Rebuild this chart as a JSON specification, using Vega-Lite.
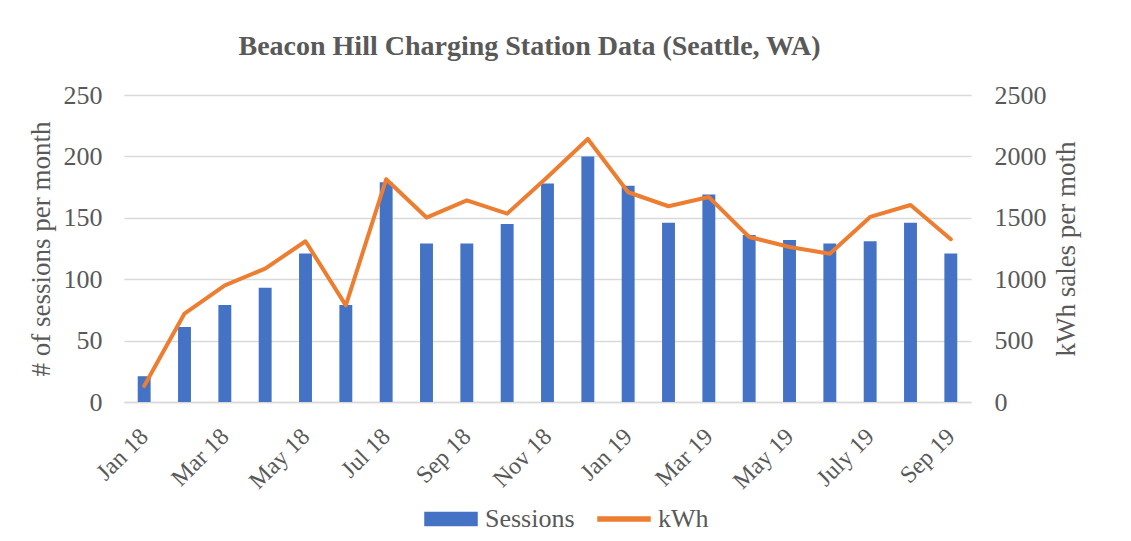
{
  "$schema": "https://vega.github.io/schema/vega-lite/v6.json",
  "width": 847,
  "height": 307,
  "padding": {"left": 26, "top": 33, "right": 10, "bottom": 5},
  "background": "white",
  "title": {
    "text": "Beacon Hill Charging Station Data (Seattle, WA)",
    "font": "Liberation Serif",
    "fontSize": 28,
    "fontWeight": "bold",
    "color": "#595959",
    "offset": 21,
    "dx": -18
  },
  "data": {
    "values": [
      {"month": "Jan 18", "sessions": 21, "kwh": 130},
      {"month": "Feb 18", "sessions": 61, "kwh": 720},
      {"month": "Mar 18", "sessions": 79, "kwh": 950},
      {"month": "Apr 18", "sessions": 93, "kwh": 1086},
      {"month": "May 18", "sessions": 121, "kwh": 1309},
      {"month": "Jun 18", "sessions": 79, "kwh": 787},
      {"month": "Jul 18", "sessions": 179, "kwh": 1814},
      {"month": "Aug 18", "sessions": 129, "kwh": 1502},
      {"month": "Sep 18", "sessions": 129, "kwh": 1642},
      {"month": "Oct 18", "sessions": 145, "kwh": 1534},
      {"month": "Nov 18", "sessions": 178, "kwh": 1832},
      {"month": "Dec 18", "sessions": 200, "kwh": 2142},
      {"month": "Jan 19", "sessions": 176, "kwh": 1708},
      {"month": "Feb 19", "sessions": 146, "kwh": 1594},
      {"month": "Mar 19", "sessions": 169, "kwh": 1669},
      {"month": "Apr 19", "sessions": 136, "kwh": 1344},
      {"month": "May 19", "sessions": 132, "kwh": 1262},
      {"month": "Jun 19", "sessions": 129, "kwh": 1208},
      {"month": "July 19", "sessions": 131, "kwh": 1507},
      {"month": "Aug 19", "sessions": 146, "kwh": 1604},
      {"month": "Sep 19", "sessions": 121, "kwh": 1325}
    ]
  },
  "encoding": {
    "x": {
      "field": "month",
      "type": "nominal",
      "sort": null,
      "scale": {"paddingInner": 0.68, "paddingOuter": 0.34},
      "axis": {
        "title": null,
        "values": ["Jan 18", "Mar 18", "May 18", "Jul 18", "Sep 18", "Nov 18", "Jan 19", "Mar 19", "May 19", "July 19", "Sep 19"],
        "labelAngle": -45,
        "labelAlign": "right",
        "labelBaseline": "top",
        "labelFont": "Liberation Serif",
        "labelFontSize": 24,
        "labelColor": "#595959",
        "labelPadding": 22,
        "labelOffset": -8,
        "ticks": false,
        "domainColor": "#D9D9D9",
        "domainWidth": 1.5,
        "grid": false
      }
    },
    "color": {
      "scale": {"domain": ["Sessions", "kWh"], "range": ["#4472C4", "#ED7D31"]},
      "legend": {
        "title": null,
        "orient": "none",
        "legendX": 300,
        "legendY": 397,
        "direction": "horizontal",
        "labelFont": "Liberation Serif",
        "labelFontSize": 26,
        "labelColor": "#595959",
        "symbolSize": 2704,
        "columnPadding": 20,
        "labelOffset": 7,
        "encode": {
          "symbols": {
            "update": {
              "shape": {"signal": "datum.value === 'kWh' ? 'M-1,-0.08H1V0.08H-1Z' : 'M-1,-0.25H1V0.25H-1Z'"},
              "fill": {"signal": "datum.value === 'kWh' ? '#ED7D31' : '#4472C4'"},
              "stroke": {"value": "transparent"},
              "fillOpacity": {"value": 1}
            }
          }
        }
      }
    }
  },
  "layer": [
    {
      "mark": {"type": "bar"},
      "encoding": {
        "y": {
          "field": "sessions",
          "type": "quantitative",
          "scale": {"domain": [0, 250]},
          "axis": {
            "title": "# of sessions per month",
            "values": [0, 50, 100, 150, 200, 250],
            "titleFont": "Liberation Serif",
            "titleFontSize": 27,
            "titleFontWeight": "normal",
            "titleColor": "#595959",
            "titlePadding": 8,
            "labelFont": "Liberation Serif",
            "labelFontSize": 26,
            "labelColor": "#595959",
            "labelPadding": 22,
            "ticks": false,
            "domain": false,
            "gridColor": "#D9D9D9",
            "gridWidth": 1.5
          }
        },
        "color": {"datum": "Sessions"}
      }
    },
    {
      "mark": {"type": "line", "strokeWidth": 4, "strokeJoin": "round", "strokeCap": "round"},
      "encoding": {
        "y": {
          "field": "kwh",
          "type": "quantitative",
          "scale": {"domain": [0, 2500]},
          "axis": {
            "orient": "right",
            "title": "kWh sales per moth",
            "format": "d",
            "values": [0, 500, 1000, 1500, 2000, 2500],
            "titleFont": "Liberation Serif",
            "titleFontSize": 27,
            "titleFontWeight": "normal",
            "titleColor": "#595959",
            "titleAngle": 270,
            "titlePadding": 34,
            "labelFont": "Liberation Serif",
            "labelFontSize": 26,
            "labelColor": "#595959",
            "labelPadding": 23,
            "ticks": false,
            "domain": false,
            "grid": false
          }
        },
        "color": {"datum": "kWh"}
      }
    }
  ],
  "resolve": {"scale": {"y": "independent"}},
  "config": {"view": {"stroke": null}}
}
